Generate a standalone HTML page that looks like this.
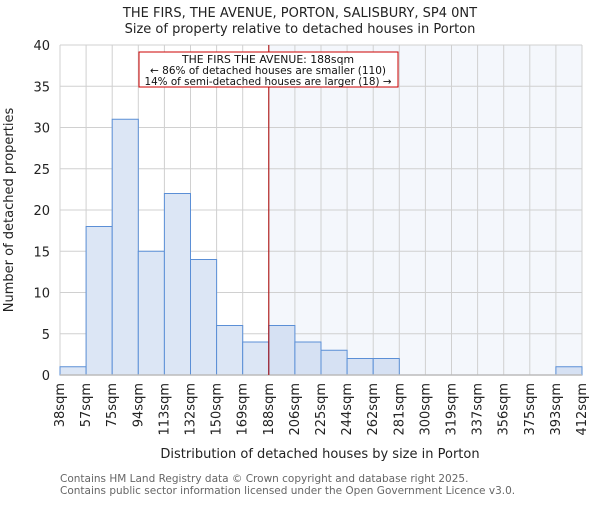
<!DOCTYPE html>
<html><head><meta charset="utf-8"><style>
body{margin:0;background:#fff;}
svg text{font-family:"DejaVu Sans","Liberation Sans",sans-serif;}
</style></head><body>
<svg id="chart" width="600" height="500" xmlns="http://www.w3.org/2000/svg">
<text x="300" y="17" text-anchor="middle" font-size="13" fill="#222">THE FIRS, THE AVENUE, PORTON, SALISBURY, SP4 0NT</text>
<text x="300" y="33" text-anchor="middle" font-size="13" fill="#222">Size of property relative to detached houses in Porton</text>
<g id="plot"></g>
<text transform="translate(13,210) rotate(-90)" text-anchor="middle" font-size="13" fill="#222">Number of detached properties</text>
<text x="320" y="458" text-anchor="middle" font-size="13" fill="#222">Distribution of detached houses by size in Porton</text>
<text x="60" y="482" font-size="10.5" fill="#666">Contains HM Land Registry data © Crown copyright and database right 2025.</text>
<text x="60" y="494" font-size="10.5" fill="#666">Contains public sector information licensed under the Open Government Licence v3.0.</text>
</svg>
<script>
const binLabels=["38sqm","57sqm","75sqm","94sqm","113sqm","132sqm","150sqm","169sqm","188sqm","206sqm","225sqm","244sqm","262sqm","281sqm","300sqm","319sqm","337sqm","356sqm","375sqm","393sqm","412sqm"];
const counts=[1,18,31,15,22,14,6,4,6,4,3,2,2,0,0,0,0,0,0,1];
const yTicks=[0,5,10,15,20,25,30,35,40];
const markerBin=8;
const annotationLines=["THE FIRS THE AVENUE: 188sqm","← 86% of detached houses are smaller (110)","14% of semi-detached houses are larger (18) →"];

const NS="http://www.w3.org/2000/svg";
const g=document.getElementById('plot');
const L=60,R=582,T=45,B=375,yMax=40;
const n=counts.length;
const xs=i=>L+(R-L)*i/n;
const ys=v=>B-(B-T)*v/yMax;
function mk(tag,attrs,parent){const e=document.createElementNS(NS,tag);for(const k in attrs)e.setAttribute(k,attrs[k]);(parent||g).appendChild(e);return e;}

let e=mk('rect',{x:xs(markerBin),y:T,width:R-xs(markerBin),height:B-T,fill:'#f4f7fc'});


for(let i=0;i<=n;i++){e=mk('line',{x1:xs(i),x2:xs(i),y1:T,y2:B,stroke:'#d0d0d0','stroke-width':1});

}
yTicks.forEach(v=>{e=mk('line',{x1:L,x2:R,y1:ys(v),y2:ys(v),stroke:'#d0d0d0','stroke-width':1});


e=mk('text',{x:L-10,y:ys(v)+5,'text-anchor':'end','font-size':13,fill:'#222'});e.textContent=v;

});
counts.forEach((c,i)=>{if(c<=0)return;
e=mk('rect',{x:xs(i),y:ys(c),width:xs(i+1)-xs(i),height:B-ys(c),fill:i>=markerBin?'#d6e1f3':'#dce6f5',stroke:'#5b8fd6','stroke-width':1});

});
e=mk('line',{x1:L,x2:R,y1:B,y2:B,stroke:'#bbb','stroke-width':1.5});


binLabels.forEach((lb,i)=>{const x=xs(i)+4;
e=mk('text',{x:0,y:0,transform:`translate(${x},383) rotate(-90)`,'text-anchor':'end','font-size':13,fill:'#222'});e.textContent=lb;

});
e=mk('line',{x1:xs(markerBin),x2:xs(markerBin),y1:T,y2:B,stroke:'#a00','stroke-width':1});


e=mk('rect',{x:139,y:52,width:259,height:35,fill:'#fff',stroke:'#c00','stroke-width':1});


const annW=[172,236,247];
annotationLines.forEach((t,k)=>{e=mk('text',{x:268,y:63+k*11,'text-anchor':'middle','font-size':10.5,fill:'#111',textLength:annW[k],lengthAdjust:'spacingAndGlyphs'});e.textContent=t;

});
</script>
</body></html>
